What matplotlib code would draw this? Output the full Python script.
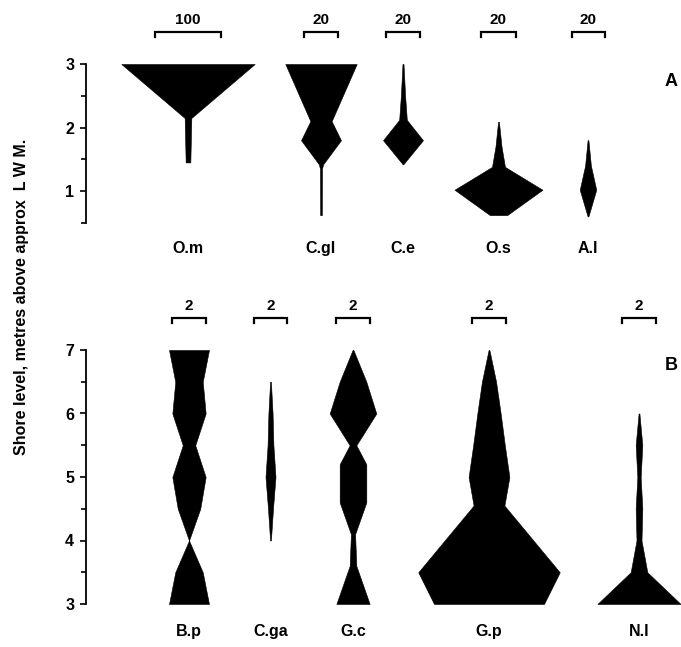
import matplotlib
matplotlib.use("Agg")
import matplotlib.pyplot as plt

plt.rcParams['font.family'] = ['Liberation Sans', 'DejaVu Sans']
plt.rcParams['font.weight'] = 'bold'

# ---- panel A : kite profiles (level in m, full kite width in scale units) ----
a_names = ["O.m", "C.gl", "C.e", "O.s", "A.l"]
a_bar_values = [100, 20, 20, 20, 20]
om_levels = [3.0, 2.15, 1.45]
om_widths = [200, 10, 7]
cgl_levels = [3.0, 2.1, 1.8, 1.42, 1.35, 0.62]
cgl_widths = [42, 12.5, 23.5, 2.5, 1.2, 1.0]
ce_levels = [3.0, 2.5, 2.12, 1.8, 1.42]
ce_widths = [0.6, 2.5, 4.5, 23.5, 0.3]
os_levels = [2.09, 1.7, 1.38, 1.02, 0.62]
os_widths = [0.5, 3.5, 7.5, 51, 10]
al_levels = [1.8, 1.4, 1.02, 0.6]
al_widths = [0.5, 3.5, 10, 0.5]

# ---- panel B ----
b_names = ["B.p", "C.ga", "G.c", "G.p", "N.l"]
b_bar_values = [2, 2, 2, 2, 2]
bp_levels = [7.0, 6.5, 6.0, 5.5, 5.0, 4.5, 4.0, 3.5, 3.0]
bp_widths = [2.4, 1.65, 2.0, 0.75, 2.0, 1.35, 0.0, 1.65, 2.4]
cga_levels = [6.5, 6.0, 5.5, 5.0, 4.5, 4.0]
cga_widths = [0.05, 0.25, 0.35, 0.6, 0.3, 0.05]
gc_levels = [7.0, 6.5, 6.0, 5.5, 5.2, 4.6, 4.1, 3.6, 3.0]
gc_widths = [0.05, 1.6, 2.8, 0.4, 1.6, 1.6, 0.25, 0.4, 2.0]
gp_levels = [7.0, 6.5, 6.0, 5.5, 5.0, 4.55, 3.5, 3.0]
gp_widths = [0.05, 0.85, 1.4, 1.9, 2.45, 1.85, 8.5, 6.6]
nl_levels = [6.0, 5.5, 5.0, 4.5, 4.0, 3.5, 3.0]
nl_widths = [0.05, 0.4, 0.2, 0.4, 0.3, 1.0, 5.0]

a_profiles = [(om_levels, om_widths), (cgl_levels, cgl_widths), (ce_levels, ce_widths),
              (os_levels, os_widths), (al_levels, al_widths)]
b_profiles = [(bp_levels, bp_widths), (cga_levels, cga_widths), (gc_levels, gc_widths),
              (gp_levels, gp_widths), (nl_levels, nl_widths)]

# layout (x in pixel-like units across the figure)
a_centres = [188, 321, 403, 498.5, 588]
b_centres = [189, 270.5, 353, 489, 639]
a_bar_len = [66.7, 34, 34, 34.5, 33]
b_bar_len = [33.3, 33.3, 33.3, 33.3, 33.3]
PX = 63.5  # pixels per metre

W, H = 681, 647
fig = plt.figure(figsize=(W / 100, H / 100), dpi=100)


def make_axes(top_px, bot_px, ref_level, ref_px):
    ax = fig.add_axes([0, 1 - bot_px / H, 1, (bot_px - top_px) / H])
    ax.set_xlim(0, W)
    ax.set_ylim(ref_level - (bot_px - ref_px) / PX, ref_level + (ref_px - top_px) / PX)
    for s in ["top", "right", "bottom"]:
        ax.spines[s].set_visible(False)
    ax.spines["left"].set_position(("data", 86))
    ax.spines["left"].set_linewidth(1.3)
    ax.set_xticks([])
    ax.tick_params(axis="y", which="both", direction="out", width=1.2, labelsize=11.5, pad=4)
    ax.tick_params(axis="y", which="major", length=4.5)
    ax.tick_params(axis="y", which="minor", length=3.5)
    ax.patch.set_alpha(0)
    return ax


def draw_panel(ax, names, profiles, centres, bar_vals, bar_lens, top, label_y, letter, letter_y):
    for name, (lv, wd), c, bv, bl in zip(names, profiles, centres, bar_vals, bar_lens):
        k = bl / bv
        half = [w * k / 2 for w in wd]
        ax.fill_betweenx(lv, [c - h for h in half], [c + h for h in half],
                         color="black", lw=0.4)
        # scale bracket
        yb = top + 0.5
        ax.plot([c - bl / 2, c - bl / 2, c + bl / 2, c + bl / 2],
                [yb - 0.08, yb, yb, yb - 0.08], color="black", lw=1.6,
                solid_joinstyle="miter", clip_on=False)
        ax.text(c, yb + 0.09, str(bv), ha="center", va="bottom", fontsize=11,
                fontweight="bold")
        ax.text(c, label_y, name, ha="center", va="center", fontsize=11.5,
                fontweight="bold")
    ax.text(678, letter_y, letter, ha="right", va="center", fontsize=13,
            fontweight="bold", clip_on=False)


axA = make_axes(0, 258, 3.0, 64)
axA.spines["left"].set_bounds(0.5, 3)
axA.set_yticks([1, 2, 3])
axA.set_yticks([0.5, 1.5, 2.5], minor=True)
draw_panel(axA, a_names, a_profiles, a_centres, a_bar_values, a_bar_len,
           3.0, 0.1, "A", 2.72)

axB = make_axes(262, H, 7.0, 350)
axB.spines["left"].set_bounds(3, 7)
axB.set_yticks([3, 4, 5, 6, 7])
axB.set_yticks([3.5, 4.5, 5.5, 6.5], minor=True)
draw_panel(axB, b_names, b_profiles, b_centres, b_bar_values, b_bar_len,
           7.0, 2.56, "B", 6.76)

fig.text(22 / W, 1 - 297 / H, "Shore level, metres above approx  L W M.",
         rotation=90, ha="center", va="center", fontsize=11.5, fontweight="bold")

fig.savefig("out.png", dpi=100)
